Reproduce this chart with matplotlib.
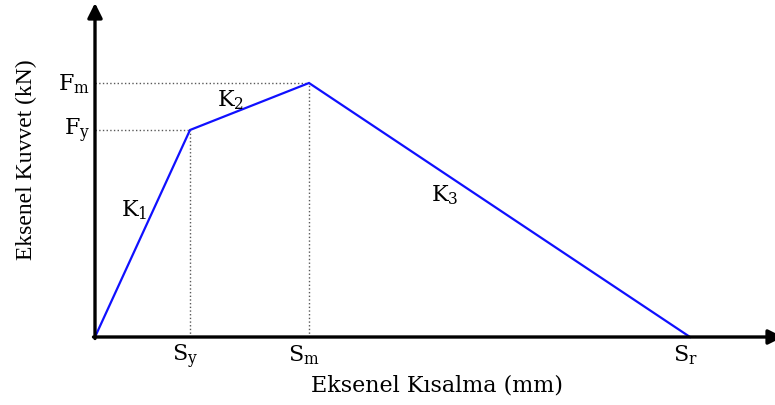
import matplotlib.pyplot as plt

plt.rcParams['font.family'] = 'DejaVu Serif'
plt.rcParams['mathtext.fontset'] = 'dejavuserif'

# idealised force-shortening curve (arbitrary units)
disp = [0, 95, 214, 595]          # 0, Sy, Sm, Sr
force = [0, 207, 254, 0]          # 0, Fy, Fm, 0
x_ticks = ['S$_\\mathrm{y}$', 'S$_\\mathrm{m}$', 'S$_\\mathrm{r}$']
y_ticks = ['F$_\\mathrm{y}$', 'F$_\\mathrm{m}$']
k_labels = ['K$_\\mathrm{1}$', 'K$_\\mathrm{2}$', 'K$_\\mathrm{3}$']

fig = plt.figure(figsize=(7.75, 4.06), dpi=100)
ax = fig.add_axes([0, 0, 1, 1])
ax.set_xlim(-95, 680)
ax.set_ylim(-68, 338)
ax.axis('off')

# dotted guides
ax.plot([0, disp[1]], [force[1], force[1]], ':', color='0.35', lw=1)
ax.plot([0, disp[2]], [force[2], force[2]], ':', color='0.35', lw=1)
ax.plot([disp[1], disp[1]], [0, force[1]], ':', color='0.35', lw=1)
ax.plot([disp[2], disp[2]], [0, force[2]], ':', color='0.35', lw=1)

# curve
ax.plot(disp, force, color='#1010ff', lw=1.6, solid_joinstyle='miter')

# axes with arrows
ax.annotate('', xy=(0, 334), xytext=(0, -1.5),
            arrowprops=dict(arrowstyle='-|>', lw=2.4, color='k', mutation_scale=22, shrinkA=0, shrinkB=0))
ax.annotate('', xy=(688, 0), xytext=(-1.5, 0),
            arrowprops=dict(arrowstyle='-|>', lw=2.4, color='k', mutation_scale=22, shrinkA=0, shrinkB=0),
            annotation_clip=False)

# tick labels
for xv, lab in zip(disp[1:], x_ticks):
    ax.text(xv - 5, -5, lab, fontsize=16, ha='center', va='top')
for yv, lab in zip(force[1:3], y_ticks):
    ax.text(-5, yv, lab, fontsize=16, ha='right', va='center')

# stiffness labels
ax.text(39, 128, k_labels[0], fontsize=16, ha='center', va='center')
ax.text(136, 238, k_labels[1], fontsize=16, ha='center', va='center')
ax.text(350, 143, k_labels[2], fontsize=16, ha='center', va='center')

# axis titles
ax.text(342, -48, 'Eksenel Kısalma (mm)', fontsize=16, ha='center', va='center')
ax.text(-69, 178, 'Eksenel Kuvvet (kN)', fontsize=17, rotation=90, ha='center', va='center',
        family='Liberation Serif')

plt.savefig('out.png', dpi=100)
